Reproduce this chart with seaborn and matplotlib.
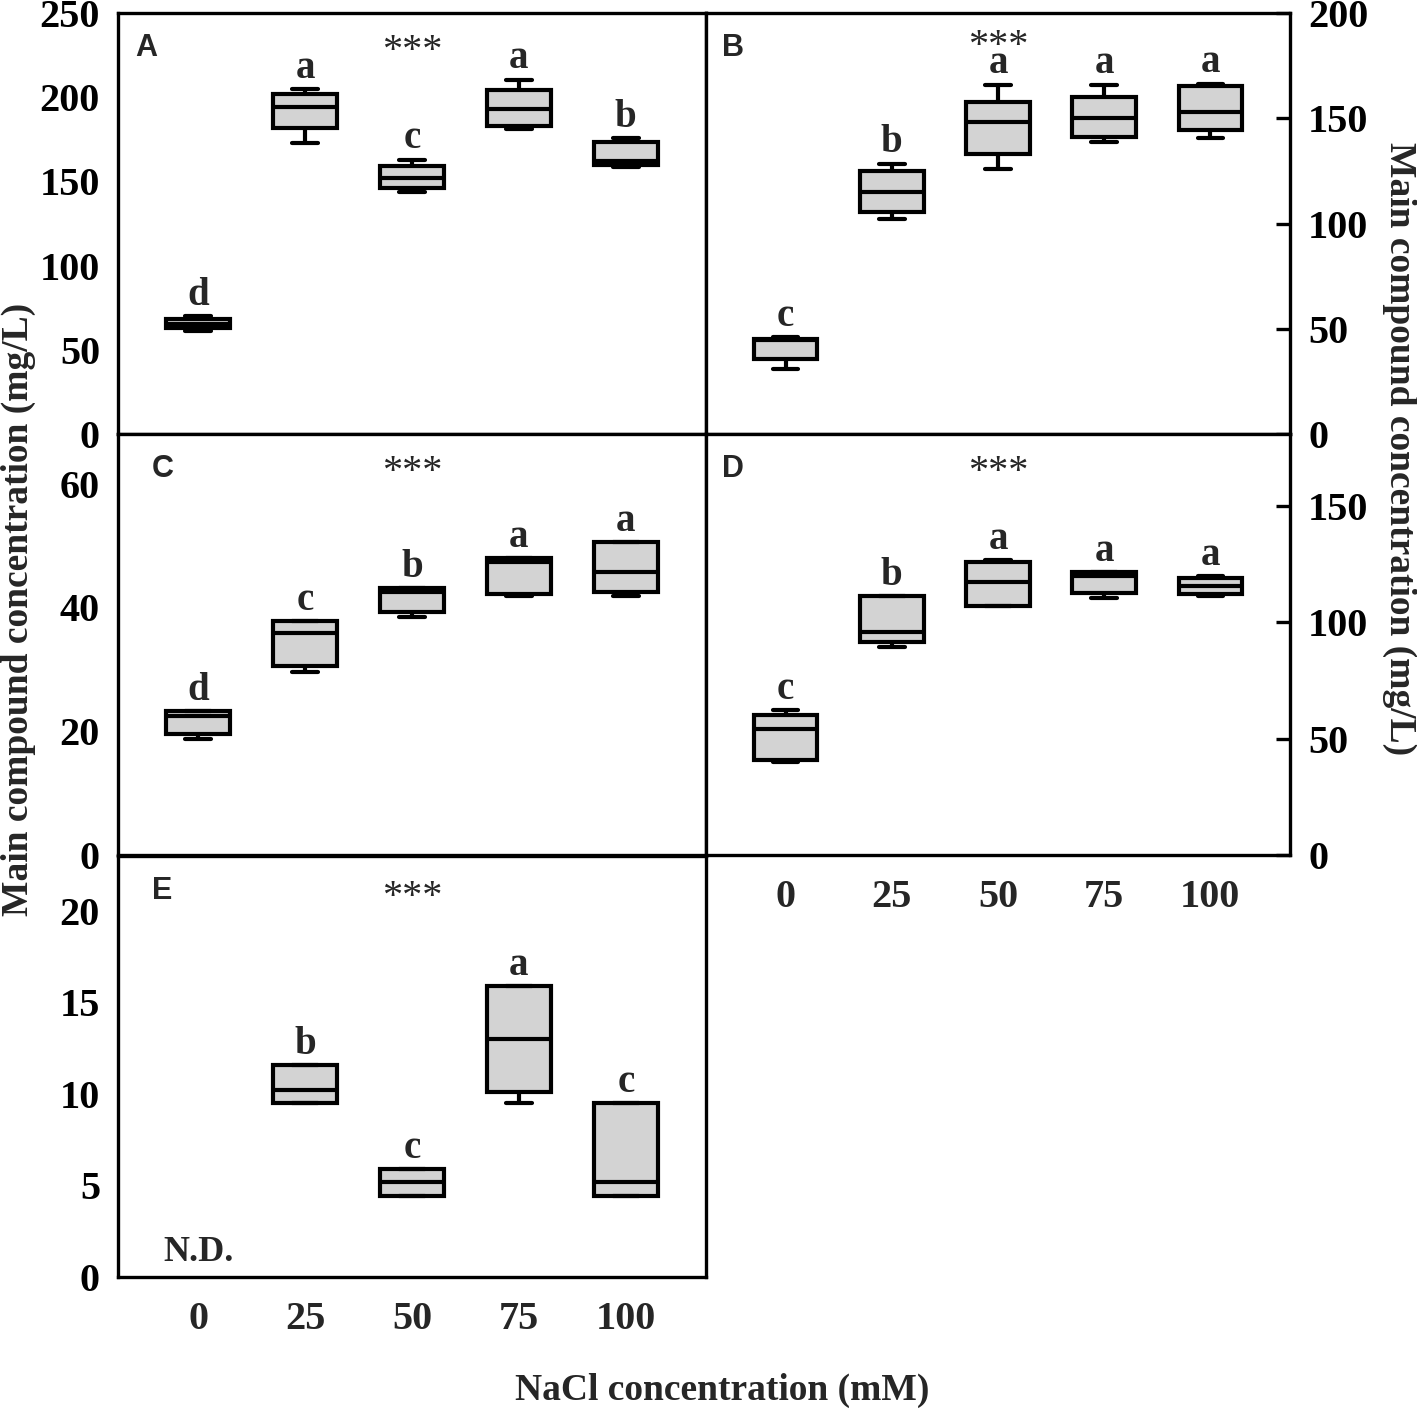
import numpy as np
import pandas as pd
import matplotlib
matplotlib.use('Agg')
import matplotlib.pyplot as plt
import seaborn as sns

sns.set_style('white')
plt.rcParams['font.family'] = ['Liberation Serif', 'DejaVu Serif']
plt.rcParams['font.weight'] = 'bold'

# NaCl levels (mM)
nacl = ['0', '25', '50', '75', '100']

# five-number summaries per NaCl level: [min, q1, median, q3, max]
a_stats = [[61, 63, 65.5, 68, 70], [173, 182, 194, 202, 205], [144, 146, 152, 159, 163],
           [181, 183, 193, 204, 210.5], [158.5, 159.5, 162, 173.5, 176]]
b_stats = [[31, 35.5, 44.5, 45, 46], [102, 105.5, 115, 125, 128.5], [126, 133, 148, 157.5, 166],
           [138.5, 141, 150, 160, 166], [140.5, 144.5, 153, 165.5, 166.5]]
c_stats = [[18.7, 19.5, 22.5, 23.3, 23.3], [29.6, 30.5, 35.8, 37.8, 37.8], [38.4, 39.2, 42.5, 43.1, 43.1],
           [41.8, 42.2, 47.4, 48, 48], [41.8, 42.4, 45.7, 50.5, 50.5]]
d_stats = [[40, 41, 54, 60, 62.5], [89.5, 91.7, 96, 111.5, 111.5], [107.2, 107.2, 117.5, 126, 126.8],
           [110.3, 112.5, 120, 121.8, 121.8], [111.5, 112.2, 115.6, 118.9, 120]]
e_stats = [[], [9.5, 9.5, 10.2, 11.6, 11.6], [4.4, 4.4, 5.2, 5.9, 5.9],
           [9.5, 10.1, 13, 15.9, 15.9], [4.4, 4.4, 5.2, 9.5, 9.5]]

# significance letters
a_letters = ['d', 'a', 'c', 'a', 'b']
b_letters = ['c', 'b', 'a', 'a', 'a']
c_letters = ['d', 'c', 'b', 'a', 'a']
d_letters = ['c', 'b', 'a', 'a', 'a']
e_letters = ['', 'b', 'c', 'a', 'c']

fig = plt.figure(figsize=(14.17, 14.09), dpi=100)

L, M, R = 118 / 1417, 706 / 1417, 1290 / 1417
H = 421 / 1409
rows = [1 - 434 / 1409, 1 - 855 / 1409, 1 - 1277 / 1409]


def panel(pos, stats, letters, ylim, yticks, tag, tag_dx, star_y=0.885, right=False, xlabels=False):
    ax = fig.add_axes(pos)
    df = pd.DataFrame([(lvl, v) for lvl, s in zip(nacl, stats) for v in s],
                      columns=['nacl', 'conc'])
    kw = dict(data=df, x='nacl', y='conc', order=nacl, ax=ax, whis=(0, 100),
              width=0.6, color='#d3d3d3', saturation=1, linecolor='black',
              linewidth=3, showfliers=False)
    try:
        sns.boxplot(capwidths=0.24, **kw)
    except TypeError:
        ax.clear()
        sns.boxplot(**kw)
    for i, (s, lab) in enumerate(zip(stats, letters)):
        if s:
            ax.annotate(lab, (i, max(s)), xytext=(0, 8), textcoords='offset points',
                        ha='center', va='baseline', fontsize=28, fontweight='bold')
    ax.text(2, star_y, '***', transform=ax.get_xaxis_transform(), ha='center',
            va='baseline', fontsize=29, fontweight='normal')
    ax.text(tag_dx / 588, 0.898, tag, transform=ax.transAxes, ha='left', va='baseline',
            fontsize=22, fontweight='bold', family=['Liberation Sans', 'DejaVu Sans'])
    ax.set_xlim(-0.75, 4.75)
    ax.set_ylim(ylim)
    ax.set_yticks(yticks)
    ax.set_xlabel('')
    ax.set_ylabel('')
    for sp in ax.spines.values():
        sp.set_linewidth(2.4)
        sp.set_color('black')
    ax.tick_params(axis='y', direction='in', length=10, width=2.4, pad=13,
                   labelsize=29, colors='black')
    ax.tick_params(axis='x', length=0, pad=17, labelsize=29, labelbottom=xlabels)
    if right:
        ax.yaxis.tick_right()
        ax.tick_params(axis='y', direction='in', length=10, width=2.4, pad=13)
    return ax


panel([L, rows[0], M - L, H], a_stats, a_letters, (0, 250), range(0, 251, 50), 'A', 17)
panel([M, rows[0], R - M, H], b_stats, b_letters, (0, 200), range(0, 201, 50), 'B', 16,
      star_y=0.897, right=True)
panel([L, rows[1], M - L, H], c_stats, c_letters, (0, 68), range(0, 61, 20), 'C', 34)
panel([M, rows[1], R - M, H], d_stats, d_letters, (0, 181), range(0, 151, 50), 'D', 16,
      right=True, xlabels=True)
ax_e = panel([L, rows[2], M - L, H], e_stats, e_letters, (0, 23), range(0, 21, 5), 'E', 34,
             star_y=0.88, xlabels=True)
ax_e.text(0, 0.9, 'N.D.', ha='center', va='baseline', fontsize=26, fontweight='bold')

fig.text(18 / 1417, 1 - 609 / 1409, 'Main compound concentration (mg/L)', rotation=90,
         ha='center', va='center', fontsize=27, fontweight='bold')
fig.text(1400 / 1417, 1 - 449 / 1409, 'Main compound concentration (mg/L)', rotation=270,
         ha='center', va='center', fontsize=27, fontweight='bold')
fig.text(722 / 1417, 1 - 1390 / 1409, 'NaCl concentration (mM)', ha='center', va='center',
         fontsize=27, fontweight='bold')

fig.savefig('out.png', dpi=100)
